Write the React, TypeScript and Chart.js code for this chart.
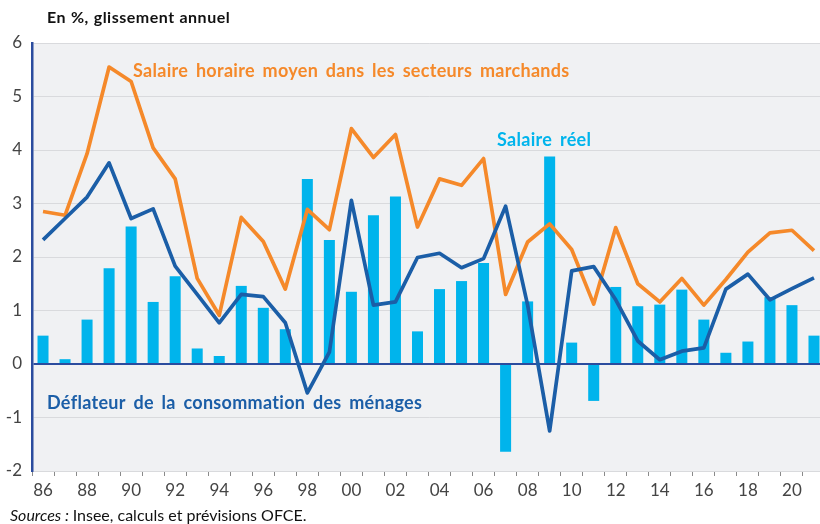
import React, { useEffect, useRef } from "react";
import { Chart, registerables } from "chart.js";

Chart.register(...registerables);

const categories = [
  "86", "87", "88", "89", "90", "91", "92", "93", "94", "95",
  "96", "97", "98", "99", "00", "01", "02", "03", "04", "05",
  "06", "07", "08", "09", "10", "11", "12", "13", "14", "15",
  "16", "17", "18", "19", "20", "21",
];

const salaireReel = [
  0.53, 0.09, 0.83, 1.79, 2.57, 1.16, 1.64, 0.29, 0.15, 1.46,
  1.05, 0.65, 3.46, 2.32, 1.35, 2.78, 3.13, 0.61, 1.40, 1.55,
  1.89, -1.64, 1.17, 3.88, 0.40, -0.69, 1.44, 1.08, 1.11, 1.39,
  0.83, 0.21, 0.42, 1.25, 1.10, 0.53,
];

const salaireHoraire = [
  2.85, 2.78, 3.93, 5.55, 5.28, 4.04, 3.46, 1.60, 0.91, 2.74,
  2.29, 1.40, 2.89, 2.51, 4.40, 3.86, 4.29, 2.56, 3.46, 3.34,
  3.84, 1.30, 2.28, 2.62, 2.14, 1.12, 2.55, 1.50, 1.16, 1.60,
  1.10, 1.58, 2.09, 2.45, 2.50, 2.12,
];

const deflateur = [
  2.32, 2.72, 3.12, 3.76, 2.72, 2.90, 1.83, 1.30, 0.77, 1.30,
  1.26, 0.77, -0.54, 0.22, 3.06, 1.10, 1.16, 1.99, 2.07, 1.80,
  1.97, 2.95, 1.10, -1.25, 1.74, 1.82, 1.20, 0.43, 0.08, 0.24,
  0.30, 1.40, 1.68, 1.20, 1.41, 1.61,
];

const yMin = -2;
const yMax = 6;

const FONT = "Lato, 'Open Sans', 'DejaVu Sans', sans-serif";
const ORANGE = "#f5892a";
const CYAN = "#00b4ec";
const DARKBLUE = "#1b5ea7";
const AXISBLUE = "#2b4c9e";

function setSpacing(ctx: any, letter: number, word: number) {
  try {
    ctx.letterSpacing = `${letter}px`;
    ctx.wordSpacing = `${word}px`;
  } catch (e) {
    /* ignore */
  }
}

const decorPlugin = {
  id: "decor",
  beforeDraw(chart: any) {
    const { ctx, chartArea } = chart;
    ctx.save();
    ctx.fillStyle = "#f0f1f3";
    ctx.fillRect(chartArea.left, chartArea.top, chartArea.right - chartArea.left, chartArea.bottom - chartArea.top);
    ctx.restore();
  },
  afterDraw(chart: any) {
    const { ctx } = chart;
    ctx.save();
    ctx.textBaseline = "middle";
    ctx.textAlign = "left";
    // title
    ctx.fillStyle = "#111111";
    ctx.font = `bold 16px ${FONT}`;
    setSpacing(ctx, 0.5, 0.5);
    ctx.fillText("En %, glissement annuel", 47, 18);
    // annotations
    setSpacing(ctx, 0.3, 3);
    ctx.fillStyle = ORANGE;
    ctx.font = `bold 18px ${FONT}`;
    ctx.fillText("Salaire horaire moyen dans les secteurs marchands", 133, 71);
    ctx.fillStyle = CYAN;
    ctx.fillText("Salaire réel", 497, 140);
    ctx.fillStyle = DARKBLUE;
    ctx.fillText("Déflateur de la consommation des ménages", 47, 403);
    // source
    setSpacing(ctx, 0, 0);
    ctx.fillStyle = "#111111";
    ctx.font = `italic 16px ${FONT}`;
    const s1 = "Sources :";
    ctx.fillText(s1, 10, 516);
    const w = ctx.measureText(s1 + " ").width;
    ctx.font = `16px ${FONT}`;
    ctx.fillText("Insee, calculs et prévisions OFCE.", 10 + w, 516);
    ctx.restore();
  },
};

export default function App() {
  const ref = useRef<HTMLCanvasElement>(null);

  useEffect(() => {
    if (!ref.current) return;
    const chart = new Chart(ref.current, {
      type: "bar",
      data: {
        labels: categories,
        datasets: [
          {
            type: "line",
            label: "Déflateur de la consommation des ménages",
            data: deflateur,
            borderColor: DARKBLUE,
            borderWidth: 3.7,
            pointRadius: 0,
            tension: 0,
            borderJoinStyle: "round",
            order: 0,
          } as any,
          {
            type: "line",
            label: "Salaire horaire moyen dans les secteurs marchands",
            data: salaireHoraire,
            borderColor: ORANGE,
            borderWidth: 3.7,
            pointRadius: 0,
            tension: 0,
            borderJoinStyle: "round",
            order: 1,
          } as any,
          {
            type: "bar",
            label: "Salaire réel",
            data: salaireReel,
            backgroundColor: CYAN,
            categoryPercentage: 1,
            barPercentage: 0.5,
            order: 2,
          },
        ],
      },
      options: {
        responsive: false,
        animation: false,
        layout: { padding: { top: 43, left: 0, right: 0, bottom: 0 } },
        plugins: {
          legend: { display: false },
          tooltip: { enabled: false },
          title: { display: false },
        },
        scales: {
          x: {
            offset: true,
            grid: {
              offset: true,
              drawOnChartArea: false,
              drawTicks: true,
              tickLength: 5,
              color: "#8a8a8a",
            },
            border: { display: false },
            ticks: {
              autoSkip: false,
              maxRotation: 0,
              padding: 4,
              color: "#444444",
              font: { family: FONT, size: 17 },
              callback: (_v: any, i: number) => (i % 2 === 0 ? categories[i] : ""),
            },
            afterFit: (scale: any) => {
              scale.height = 53;
            },
          },
          y: {
            min: yMin,
            max: yMax,
            ticks: {
              stepSize: 1,
              padding: 10,
              color: "#444444",
              font: { family: FONT, size: 17 },
            },
            grid: {
              drawTicks: false,
              color: (c: any) => (c.tick && c.tick.value === 0 ? AXISBLUE : "#d9dadd"),
              lineWidth: (c: any) => (c.tick && c.tick.value === 0 ? 2 : 1),
            },
            border: { display: true, color: AXISBLUE, width: 2.5 },
            afterFit: (scale: any) => {
              scale.width = 32;
            },
          },
        },
      },
      plugins: [decorPlugin],
    });
    return () => chart.destroy();
  }, []);

  return (
    <div style={{ position: "fixed", left: 0, top: 0, width: 820, height: 524, overflow: "hidden", background: "#fff" }}>
      <canvas ref={ref} width={825} height={524} style={{ display: "block" }} />
    </div>
  );
}
